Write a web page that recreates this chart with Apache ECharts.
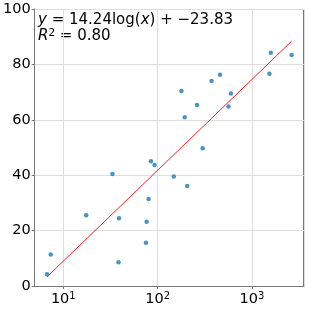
<!DOCTYPE html>
<html><head><meta charset="utf-8">
<script src="https://cdn.jsdelivr.net/npm/echarts@6/dist/echarts.min.js"></script>
<style>html,body{margin:0;padding:0;background:#fff}#c{width:309px;height:309px}</style>
</head><body><div id="c"></div>
<script>
const xValues = [6.73, 7.36, 17.5, 33.2, 39.0, 38.5, 76.5, 75.2, 80.3, 85.0, 92.9, 148.6, 206, 179, 194, 262, 301, 374, 459, 566, 600, 1535, 1588, 2642];
const yValues = [4.2, 11.4, 25.5, 40.4, 24.5, 8.6, 23.2, 15.6, 31.4, 45.0, 43.7, 39.5, 36.1, 70.4, 60.9, 65.3, 49.7, 74.0, 76.3, 64.8, 69.5, 76.6, 84.2, 83.4];
const fitCoef = [14.24, -23.83];
const rSquared = 0.80;
const yTicks = [0, 20, 40, 60, 80, 100];

const points = xValues.map((x, i) => [x, yValues[i]]);
const xmin = Math.min(...xValues), xmax = Math.max(...xValues);
const fit = [xmin, xmax].map(x => [x, fitCoef[0] * Math.log(x) + fitCoef[1]]);

const chart = echarts.init(document.getElementById('c'), null, {renderer: 'canvas'});
const font = 'DejaVu Sans';
chart.setOption({
  animation: false,
  grid: {left: 34, top: 9, right: 5, bottom: 23, containLabel: false},
  xAxis: {
    type: 'log', logBase: 10, min: 4.97, max: 3573,
    axisLine: {show: true, lineStyle: {color: '#777', width: 1}},
    axisTick: {show: true, length: 3, lineStyle: {color: '#777'}},
    minorTick: {show: false},
    splitLine: {show: true, lineStyle: {color: '#dedede', width: 1}},
    axisLabel: {
      showMinLabel: false, showMaxLabel: false, margin: 5,
      formatter: v => '{b|10}{s|' + Math.round(Math.log10(v)) + '}',
      rich: {
        b: {fontFamily: font, fontSize: 14.5, color: '#000'},
        s: {fontFamily: font, fontSize: 10, color: '#000', verticalAlign: 'top', padding: [0, 0, 6, 0]}
      }
    }
  },
  yAxis: {
    type: 'value', min: 0, max: 100, interval: 20,
    axisLine: {show: true, lineStyle: {color: '#777', width: 1}},
    axisTick: {show: true, length: 3, lineStyle: {color: '#777'}},
    splitLine: {show: true, lineStyle: {color: '#dedede', width: 1}},
    axisLabel: {fontFamily: font, fontSize: 14.5, color: '#000', margin: 4,
      formatter: v => yTicks.includes(v) ? String(v) : ''}
  },
  series: [
    {type: 'line', data: fit, symbol: 'none', lineStyle: {color: '#ff0000', width: 0.9}, z: 2},
    {type: 'scatter', data: points, symbolSize: 4.5, itemStyle: {color: '#1f77b4'}, z: 3}
  ],
  graphic: [
    {type: 'rect', left: 303, top: 9, shape: {width: 1, height: 277}, style: {fill: '#777'}, silent: true},
    {type: 'rect', left: 34, top: 9, shape: {width: 270, height: 1}, style: {fill: '#999'}, silent: true},
    {type: 'text', left: 38, top: 12, style: {
      text: '{i|y} = 14.24log({i|x}) + −23.83\n{i|R}{s|2} = ' + rSquared.toFixed(2),
      rich: {
        i: {fontFamily: font, fontSize: 15, fontStyle: 'italic', color: '#000'},
        s: {fontFamily: font, fontSize: 10.5, color: '#000', verticalAlign: 'top', padding: [0, 0, 6, 0]}
      },
      fontFamily: font, fontSize: 15, fill: '#000', lineHeight: 16
    }}
  ]
});
</script></body></html>
